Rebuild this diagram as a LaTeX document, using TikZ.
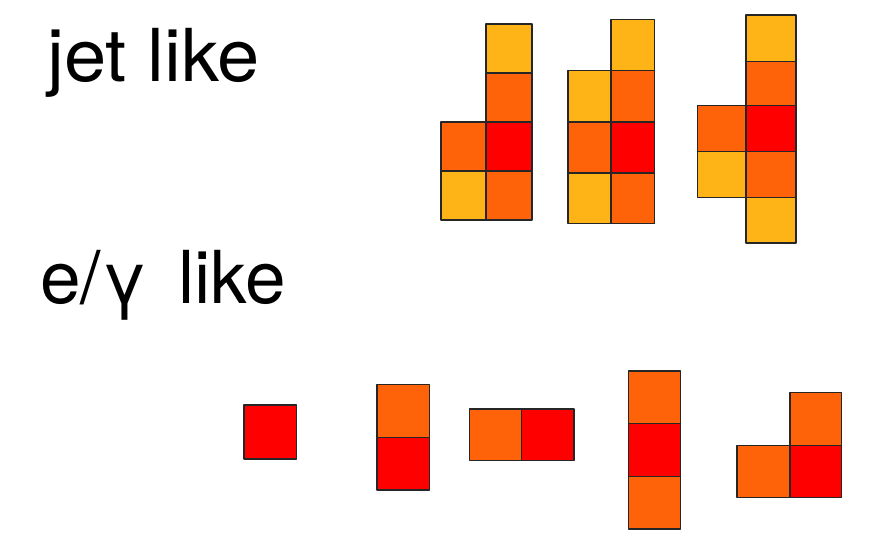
\documentclass[tikz,border=0pt]{standalone}
\usepackage{fontspec}
\setmainfont{TeX Gyre Heros}
\definecolor{cy}{HTML}{FEB416}
\definecolor{co}{HTML}{FF6309}
\definecolor{cr}{HTML}{FF0000}
\begin{document}
\begin{tikzpicture}[x=1pt,y=-1pt,
  cell/.style={draw=black!85,line width=1.8pt,line join=round},
  lbl/.style={inner sep=0pt,anchor=base west,font=\fontsize{73}{80}\selectfont}]
\useasboundingbox (0,0) rectangle (872,548);
% labels
\node[lbl,xscale=1.04] (jet) at (47,81.5) {jet like};
\node[lbl] (eg) at (40,303) {e/γ\hspace{0.42em}like};
% jet group 1
\path[cell,fill=cy] (486,24) rectangle (532,73);
\path[cell,fill=co] (486,73) rectangle (532,122);
\path[cell,fill=cr] (486,122) rectangle (532,171);
\path[cell,fill=co] (486,171) rectangle (532,220);
\path[cell,fill=co] (441,122) rectangle (486,171);
\path[cell,fill=cy] (441,171) rectangle (486,220);
% jet group 2
\path[cell,fill=cy] (611,19.5) rectangle (654.5,70.5);
\path[cell,fill=co] (611,70.5) rectangle (654.5,122);
\path[cell,fill=cr] (611,122) rectangle (654.5,173);
\path[cell,fill=co] (611,173) rectangle (654.5,223.5);
\path[cell,fill=cy] (568,70.5) rectangle (611,122);
\path[cell,fill=co] (568,122) rectangle (611,173);
\path[cell,fill=cy] (568,173) rectangle (611,223.5);
% jet group 3
\path[cell,fill=cy] (746,15) rectangle (796,61.5);
\path[cell,fill=co] (746,61.5) rectangle (796,105.5);
\path[cell,fill=cr] (746,105.5) rectangle (796,151.5);
\path[cell,fill=co] (746,151.5) rectangle (796,197.5);
\path[cell,fill=cy] (746,197.5) rectangle (796,243);
\path[cell,fill=co] (697.5,105.5) rectangle (746,151.5);
\path[cell,fill=cy] (697.5,151.5) rectangle (746,197.5);
% e/gamma single
\path[cell,fill=cr] (244,405) rectangle (296.5,459);
% vertical pair
\path[cell,fill=co] (377,384.5) rectangle (429.5,437.5);
\path[cell,fill=cr] (377,437.5) rectangle (429.5,490);
% horizontal pair
\path[cell,fill=co] (469.5,409) rectangle (521.5,460.5);
\path[cell,fill=cr] (521.5,409) rectangle (574,460.5);
% vertical triple
\path[cell,fill=co] (628.5,371) rectangle (680.5,423.5);
\path[cell,fill=cr] (628.5,423.5) rectangle (680.5,476.5);
\path[cell,fill=co] (628.5,476.5) rectangle (680.5,529);
% L shape
\path[cell,fill=co] (790,392.5) rectangle (841.5,445.5);
\path[cell,fill=co] (737,445.5) rectangle (790,497.5);
\path[cell,fill=cr] (790,445.5) rectangle (841.5,497.5);
\end{tikzpicture}
\end{document}
